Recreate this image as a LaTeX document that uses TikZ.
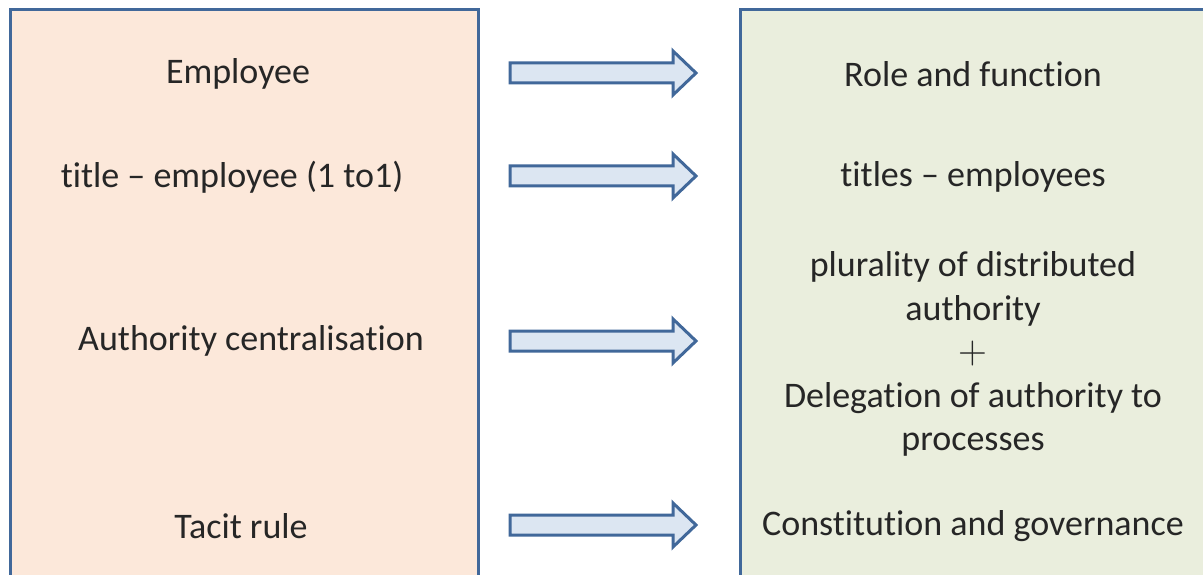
\documentclass[tikz,border=0pt]{standalone}
\usepackage{fontspec}
\setmainfont{Carlito}[Ligatures={TeX,NoCommon}]
\newfontfamily\plusfont{Latin Modern Roman}
\definecolor{bordc}{HTML}{41689A}
\definecolor{leftfill}{HTML}{FCE8DA}
\definecolor{rightfill}{HTML}{EAEEDD}
\definecolor{arrfill}{HTML}{DCE6F2}
\begin{document}
\begin{tikzpicture}[x=1pt,y=-1pt,
  panel/.style={draw=bordc,line width=3pt},
  lbl/.style={font=\fontsize{36}{43.5}\selectfont,inner sep=0pt,text=black!85,align=center},
  bigarrow/.pic={\draw[draw=bordc,fill=arrfill,line width=3pt,line join=miter]
     (-93,-10) -- (70,-10) -- (70,-22) -- (93,0) -- (70,22) -- (70,10) -- (-93,10) -- cycle;}]
\useasboundingbox (0,0) rectangle (1203,575);
\clip (0,0) rectangle (1203,575);
\fill[white] (0,0) rectangle (1203,575);
\draw[panel,fill=leftfill] (10,9.5) rectangle (478,620);
\draw[panel,fill=rightfill] (740,9.5) rectangle (1240,620);
\node[lbl] (l1) at (238,74) {Employee};
\node[lbl] (l2) at (232,177) {title -- employee (1 to1)};
\node[lbl] (l3) at (251,341) {Authority centralisation};
\node[lbl] (l4) at (241,526) {Tacit rule};
\node[lbl] (r1) at (973,74) {Role and function};
\node[lbl] (r2) at (973,177) {titles -- employees};
\node[lbl] (r3) at (973,354) {plurality of distributed\\authority\\{\plusfont\fontsize{40}{43.5}\selectfont +}\\Delegation of authority to\\processes};
\node[lbl] (r4) at (973,526) {Constitution and governance};
\coordinate (a1) at (603,73);
\coordinate (a2) at (603,176);
\coordinate (a3) at (603,341);
\coordinate (a4) at (603,525);
\foreach \a in {a1,a2,a3,a4} \pic at (\a) {bigarrow};
\end{tikzpicture}
\end{document}
